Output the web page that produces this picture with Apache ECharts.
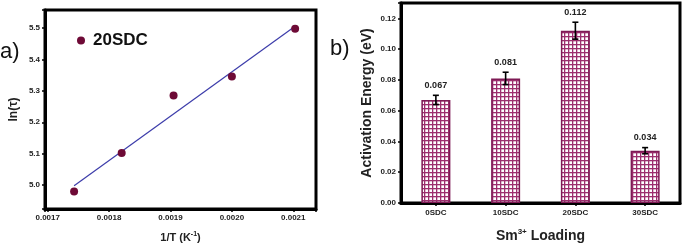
<!DOCTYPE html>
<html><head><meta charset="utf-8">
<script src="https://cdn.jsdelivr.net/npm/echarts@6/dist/echarts.min.js"></script>
<style>html,body{margin:0;padding:0;background:#fff}#c{width:685px;height:248px}</style>
</head><body><div id="c"></div>
<script>
// Panel a) data
const invT = [0.001743, 0.0018205, 0.001905, 0.0020, 0.002103];
const lnTau = [4.98, 5.102, 5.285, 5.345, 5.497];
const fitX = [0.001743, 0.002103];
const fitY = [4.998, 5.505];
// Panel b) data
const loadings = ['0SDC', '10SDC', '20SDC', '30SDC'];
const energy = [0.067, 0.081, 0.112, 0.034];
const energyErr = [0.003, 0.004, 0.0055, 0.002];

const FONT = 'Liberation Sans, Arial, sans-serif';
const chart = echarts.init(document.getElementById('c'), null, {renderer: 'canvas'});

// crosshatch pattern
const pc = document.createElement('canvas');
pc.width = 4; pc.height = 4;
const px = pc.getContext('2d');
px.fillStyle = '#ffffff'; px.fillRect(0, 0, 4, 4);
px.fillStyle = '#9c2e6e';
px.fillRect(0, 0, 4, 1.3);
px.fillRect(0, 0, 1.3, 4);

function fmtA(v) {
  const k = v * 10;
  return Math.abs(k - Math.round(k)) < 1e-6 ? v.toFixed(1) : '';
}
function fmtX(v) {
  const k = v * 10000;
  return Math.abs(k - Math.round(k)) < 1e-6 ? v.toFixed(4) : '';
}

const axisCommon = {
  axisLine: {show: true, onZero: false, lineStyle: {color: '#000', width: 3}},
  axisTick: {show: true, inside: false, length: 3, lineStyle: {color: '#000', width: 1.5}},
  splitLine: {show: false},
  axisLabel: {color: '#222', fontFamily: FONT, fontWeight: 'bold', fontSize: 8, margin: 5}
};

chart.setOption({
  animation: false,
  backgroundColor: '#fff',
  textStyle: {fontFamily: FONT},
  grid: [
    {left: 45, top: 10, width: 271, height: 201, show: true, borderColor: '#000', borderWidth: 3, backgroundColor: '#fff'},
    {left: 401, top: 3, width: 279, height: 205, show: true, borderColor: '#000', borderWidth: 3, backgroundColor: '#fff'}
  ],
  legend: {
    data: ['20SDC'], left: 72, top: 27, icon: 'circle', itemWidth: 8, itemHeight: 8, itemGap: 4,
    textStyle: {fontFamily: FONT, fontWeight: 'bold', fontSize: 17, color: '#111', padding: [0, 0, 0, 3]}
  },
  xAxis: [
    Object.assign({}, axisCommon, {
      gridIndex: 0, type: 'value', min: 0.0016956, max: 0.002137, splitNumber: 5,
      axisLabel: Object.assign({}, axisCommon.axisLabel, {formatter: fmtX, showMinLabel: true, showMaxLabel: true}),
      name: '1/T (K{sup|-1})', nameLocation: 'middle', nameGap: 22,
      nameTextStyle: {fontFamily: FONT, fontWeight: 'bold', fontSize: 11, color: '#222',
        rich: {sup: {fontSize: 7, fontWeight: 'bold', verticalAlign: 'top', padding: [0, 0, 6, 0], fontFamily: FONT, color: '#222'}}}
    }),
    Object.assign({}, axisCommon, {
      gridIndex: 1, type: 'category', data: loadings, boundaryGap: true,
      axisTick: {show: true, alignWithLabel: true, length: 3, lineStyle: {color: '#000', width: 1.5}},
      axisLabel: Object.assign({}, axisCommon.axisLabel, {margin: 6}),
      name: 'Sm{sup|3+} Loading', nameLocation: 'middle', nameGap: 25,
      nameTextStyle: {fontFamily: FONT, fontWeight: 'bold', fontSize: 14, color: '#222',
        rich: {sup: {fontSize: 8, fontWeight: 'bold', verticalAlign: 'top', padding: [0, 0, 8, 0], fontFamily: FONT, color: '#222'}}}
    })
  ],
  yAxis: [
    Object.assign({}, axisCommon, {
      gridIndex: 0, type: 'value', min: 4.9245, max: 5.5566, splitNumber: 6,
      axisLabel: Object.assign({}, axisCommon.axisLabel, {formatter: fmtA}),
      name: 'ln(τ)', nameLocation: 'middle', nameGap: 25, nameRotate: 90,
      nameTextStyle: {fontFamily: FONT, fontWeight: 'bold', fontSize: 12, color: '#222'}
    }),
    Object.assign({}, axisCommon, {
      gridIndex: 1, type: 'value', min: 0, max: 0.13, splitNumber: 6,
      axisLabel: Object.assign({}, axisCommon.axisLabel, {formatter: (v) => {
        const k = v * 50; return Math.abs(k - Math.round(k)) < 1e-6 ? v.toFixed(2) : '';
      }}),
      name: 'Activation Energy (eV)', nameLocation: 'middle', nameGap: 27, nameRotate: 90,
      nameTextStyle: {fontFamily: FONT, fontWeight: 'bold', fontSize: 14, color: '#222'}
    })
  ],
  series: [
    {
      name: 'fit', type: 'line', xAxisIndex: 0, yAxisIndex: 0, symbol: 'none',
      data: fitX.map((x, i) => [x, fitY[i]]),
      lineStyle: {color: '#3c3caa', width: 1.2}, z: 2
    },
    {
      name: '20SDC', type: 'scatter', xAxisIndex: 0, yAxisIndex: 0, symbolSize: 8,
      data: invT.map((x, i) => [x, lnTau[i]]),
      itemStyle: {color: '#6e0a36', opacity: 1}, z: 3
    },
    {
      name: 'Ea', type: 'bar', xAxisIndex: 1, yAxisIndex: 1, barWidth: 29,
      data: energy,
      itemStyle: {color: {image: pc, repeat: 'repeat'}, borderColor: '#7e1a55', borderWidth: 1.5}
    },
    {
      name: 'err', type: 'custom', xAxisIndex: 1, yAxisIndex: 1, z: 5,
      data: energy.map((v, i) => [i, v, energyErr[i]]),
      renderItem: function (params, api) {
        const i = api.value(0), v = api.value(1), e = api.value(2);
        const top = api.coord([i, v + e]);
        const bot = api.coord([i, v - e]);
        const cx = top[0];
        const cap = 3;
        const st = {stroke: '#000', lineWidth: 1.6};
        return {
          type: 'group',
          children: [
            {type: 'line', shape: {x1: cx, y1: top[1], x2: cx, y2: bot[1]}, style: st},
            {type: 'line', shape: {x1: cx - cap, y1: top[1], x2: cx + cap, y2: top[1]}, style: st},
            {type: 'line', shape: {x1: cx - cap, y1: bot[1], x2: cx + cap, y2: bot[1]}, style: st},
            {type: 'text', x: cx, y: top[1] - 10, style: {text: v.toFixed(3), x: 0, y: 0, align: 'center', verticalAlign: 'middle',
              fill: '#222', font: 'bold 9px ' + FONT}}
          ]
        };
      }
    }
  ],
  graphic: [
    {type: 'text', left: 0, top: 41, style: {text: 'a)', font: '22px ' + FONT, fill: '#111'}},
    {type: 'text', left: 330, top: 38, style: {text: 'b)', font: '22px ' + FONT, fill: '#111'}}
  ]
});
</script></body></html>
